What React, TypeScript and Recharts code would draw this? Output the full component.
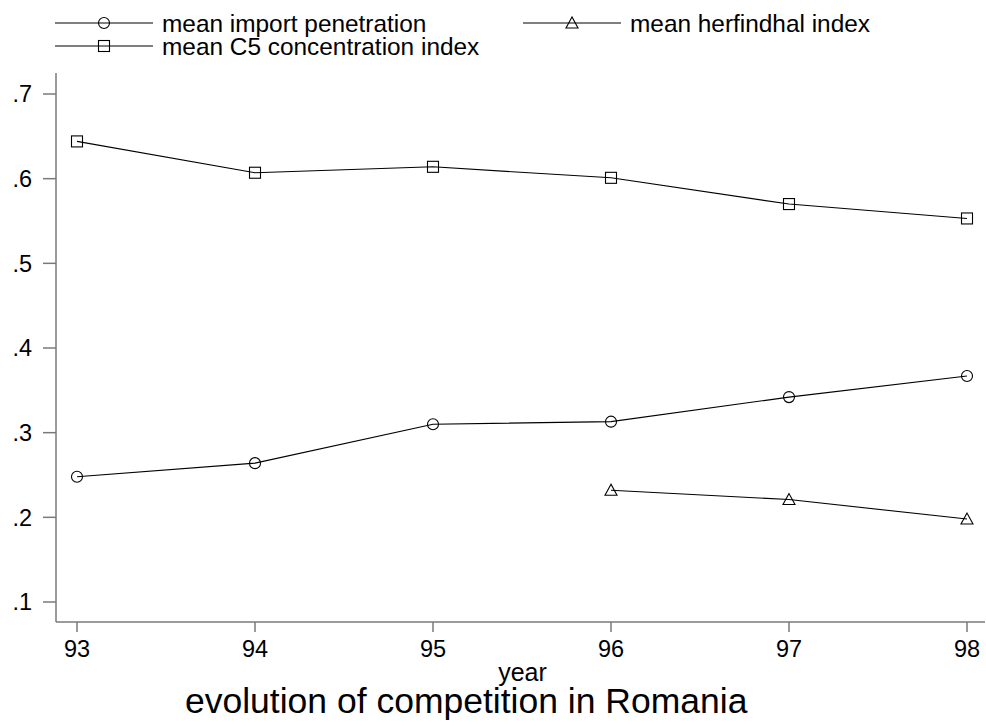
import React from 'react';
import { LineChart, Line, XAxis, YAxis, Legend, Label } from 'recharts';

const years = [93, 94, 95, 96, 97, 98];
const importPenetration = [0.248, 0.264, 0.31, 0.313, 0.342, 0.367];
const herfindahl = [null, null, null, 0.232, 0.221, 0.198];
const c5Concentration = [0.644, 0.607, 0.614, 0.601, 0.57, 0.553];
const yTicks = [0.1, 0.2, 0.3, 0.4, 0.5, 0.6, 0.7];

const seriesNames = {
  imp: 'mean import penetration',
  herf: 'mean herfindhal index',
  c5: 'mean C5 concentration index',
};

const data = years.map((y, i) => ({
  year: y,
  imp: importPenetration[i],
  herf: herfindahl[i],
  c5: c5Concentration[i],
}));

const FONT = '"Liberation Sans", Arial, Helvetica, sans-serif';
const AXIS = '#7a7a7a';

function Marker({ kind, cx, cy }: { kind: string; cx: number; cy: number }) {
  if (kind === 'circle') return <circle cx={cx} cy={cy} r={5.5} fill="none" stroke="#000" strokeWidth={1.1} />;
  if (kind === 'square') return <rect x={cx - 5.5} y={cy - 5.5} width={11} height={11} fill="none" stroke="#000" strokeWidth={1.1} />;
  return <polygon points={`${cx},${cy - 6} ${cx - 6},${cy + 5} ${cx + 6},${cy + 5}`} fill="none" stroke="#000" strokeWidth={1.1} />;
}

const makeDot = (kind: string) => (props: any) => {
  const { cx, cy, index, value } = props;
  if (cx == null || cy == null || value == null) return <g key={`${kind}-${index}`} />;
  return <Marker key={`${kind}-${index}`} kind={kind} cx={cx} cy={cy} />;
};

const markerOf: Record<string, string> = { imp: 'circle', herf: 'triangle', c5: 'square' };
const legendPos: Record<string, { x: number; y: number }> = {
  imp: { x: 55, y: 23 },
  herf: { x: 523, y: 23 },
  c5: { x: 55, y: 46 },
};

const renderLegend = (props: any) => {
  const payload = props.payload || [];
  return (
    <svg width={986} height={60} style={{ display: 'block' }}>
      {payload.map((p: any) => {
        const key = p.dataKey as string;
        const pos = legendPos[key];
        if (!pos) return null;
        return (
          <g key={key}>
            <line x1={pos.x} y1={pos.y} x2={pos.x + 98} y2={pos.y} stroke="#000" strokeWidth={1.1} />
            <Marker kind={markerOf[key]} cx={pos.x + 49} cy={pos.y} />
            <text x={pos.x + 107} y={pos.y + 8.5} fontSize={24.4} fontFamily={FONT} fill="#000">
              {p.value}
            </text>
          </g>
        );
      })}
    </svg>
  );
};

const YearLabel = (props: any) => {
  const vb = props.viewBox || { x: 56, y: 622, width: 929 };
  return (
    <text x={vb.x + vb.width / 2 + 2} y={vb.y + 59} textAnchor="middle" fontSize={25} fontFamily={FONT} fill="#000">
      year
    </text>
  );
};

export default function App() {
  return (
    <div style={{ position: 'absolute', left: 0, top: 0, width: 986, height: 726, background: '#fff' }}>
      <LineChart width={986} height={726} data={data} margin={{ top: 13, right: 1, left: 0, bottom: 0 }}>
        <XAxis
          type="number"
          dataKey="year"
          domain={[93, 98]}
          ticks={years}
          interval={0}
          padding={{ left: 21, right: 18 }}
          height={104}
          tickSize={10}
          tickMargin={8}
          stroke={AXIS}
          strokeWidth={1.5}
          tick={{ fill: '#000', fontSize: 23.5, fontFamily: FONT }}
        >
          <Label content={<YearLabel />} />
        </XAxis>
        <YAxis
          type="number"
          domain={[0.1, 0.7]}
          ticks={yTicks}
          interval={0}
          padding={{ top: 21, bottom: 20 }}
          width={56}
          tickSize={13}
          tickMargin={11}
          stroke={AXIS}
          strokeWidth={1.5}
          tickFormatter={(v: number) => String(Math.round(v * 10) / 10).replace(/^0/, '')}
          tick={{ fill: '#000', fontSize: 23.5, fontFamily: FONT }}
        />
        <Legend
          layout="vertical"
          align="center"
          verticalAlign="top"
          wrapperStyle={{ position: 'absolute', top: 0, left: 0, width: 986, height: 60 }}
          content={renderLegend}
        />
        <Line dataKey="imp" name={seriesNames.imp} stroke="#000" strokeWidth={1.1} dot={makeDot('circle')} isAnimationActive={false} />
        <Line dataKey="herf" name={seriesNames.herf} stroke="#000" strokeWidth={1.1} dot={makeDot('triangle')} isAnimationActive={false} />
        <Line dataKey="c5" name={seriesNames.c5} stroke="#000" strokeWidth={1.1} dot={makeDot('square')} isAnimationActive={false} />
      </LineChart>
      <svg width={986} height={726} style={{ position: 'absolute', left: 0, top: 0, pointerEvents: 'none' }}>
        <text x={185} y={713} fontSize={35.5} fontFamily={FONT} fill="#000">
          evolution of competition in Romania
        </text>
      </svg>
    </div>
  );
}
